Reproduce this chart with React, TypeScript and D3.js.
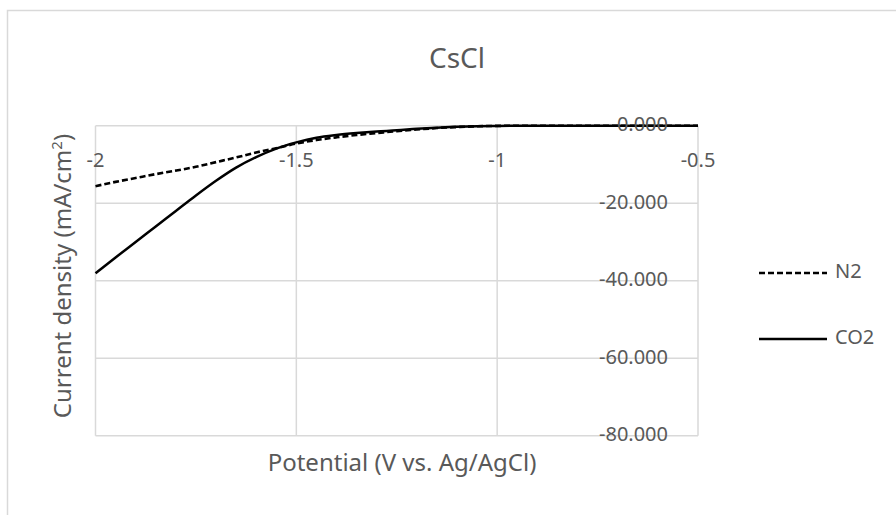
import React from "react";
import * as d3 from "d3";

const potentials = [-2.0, -1.95, -1.9, -1.85, -1.8, -1.75, -1.7, -1.65, -1.6, -1.55, -1.5, -1.45, -1.4, -1.35, -1.3, -1.25, -1.2, -1.15, -1.1, -1.05, -1.0, -0.95, -0.9, -0.85, -0.8, -0.75, -0.7, -0.65, -0.6, -0.55, -0.5];
const n2Values = [-15.6, -14.5, -13.5, -12.5, -11.6, -10.6, -9.4, -8.2, -6.9, -5.8, -4.6, -3.7, -3.0, -2.4, -1.9, -1.4, -1.0, -0.6, -0.35, -0.15, -0.05, 0, 0, 0, 0, 0, 0, 0, 0, 0, 0];
const co2Values = [-38.1, -34.0, -30.0, -26.0, -22.0, -18.0, -14.2, -10.8, -8.1, -5.9, -4.3, -3.1, -2.4, -1.9, -1.5, -1.2, -0.8, -0.5, -0.3, -0.15, -0.05, 0, 0, 0, 0, 0, 0, 0, 0, 0, 0];
const xTicks = [-2, -1.5, -1, -0.5];
const yTicks = [0, -20, -40, -60, -80];
const seriesNames = ["N2", "CO2"];

const FONT = "'Noto Sans', 'DejaVu Sans', sans-serif";
const TEXT = "#595959";
const GRID = "#d9d9d9";

export default function App() {
  const W = 896, H = 515;
  const x = d3.scaleLinear().domain([-2, -0.5]).range([95.5, 698]);
  const y = d3.scaleLinear().domain([-80, 0]).range([435.7, 125.7]);
  const line = d3
    .line<number>()
    .x((_, i) => x(potentials[i]))
    .y((d) => y(d))
    .curve(d3.curveMonotoneX);

  return (
    <svg width={W} height={H} style={{ position: "absolute", left: 0, top: 0, background: "#fff" }} fontFamily={FONT}>
      <rect x={0} y={0} width={W} height={H} fill="#fff" />
      {/* outer chart border */}
      <rect x={7.5} y={10.5} width={W + 20} height={H + 20} fill="none" stroke={GRID} strokeWidth={1.5} />
      {/* title */}
      <text x={457} y={68} textAnchor="middle" fontSize={28} fill={TEXT}>CsCl</text>
      {/* gridlines */}
      {yTicks.map((t) => (
        <line key={"h" + t} x1={x(-2)} x2={x(-0.5)} y1={y(t)} y2={y(t)} stroke={GRID} strokeWidth={1.5} />
      ))}
      {xTicks.map((t) => (
        <line key={"v" + t} x1={x(t)} x2={x(t)} y1={y(0)} y2={y(-80)} stroke={GRID} strokeWidth={1.5} />
      ))}
      {/* series */}
      <path d={line(n2Values) || ""} fill="none" stroke="#000" strokeWidth={2.6} strokeDasharray="6,3" />
      <path d={line(co2Values) || ""} fill="none" stroke="#000" strokeWidth={2.5} />
      {/* x tick labels */}
      {xTicks.map((t) => (
        <text key={"xl" + t} x={x(t)} y={162} textAnchor="middle" dominantBaseline="middle" fontSize={20} fill={TEXT}>
          {String(t)}
        </text>
      ))}
      {/* y tick labels */}
      {yTicks.map((t) => (
        <text key={"yl" + t} x={668} y={y(t)} textAnchor="end" dominantBaseline="middle" fontSize={20} fill={TEXT}>
          {d3.format(".3f")(t).replace("−", "-")}
        </text>
      ))}
      {/* axis titles */}
      <text x={402} y={471} textAnchor="middle" fontSize={24} fill={TEXT}>Potential (V vs. Ag/AgCl)</text>
      <text transform="translate(71,276) rotate(-90)" textAnchor="middle" fontSize={24} fill={TEXT}>
        Current density (mA/cm<tspan dy={-9} fontSize={15}>2</tspan><tspan dy={9}>)</tspan>
      </text>
      {/* legend */}
      <line x1={759} x2={827} y1={273} y2={273} stroke="#000" strokeWidth={2.6} strokeDasharray="6,3" />
      <text x={835} y={273} dominantBaseline="middle" fontSize={20} fill={TEXT}>{seriesNames[0]}</text>
      <line x1={759} x2={827} y1={339} y2={339} stroke="#000" strokeWidth={2.5} />
      <text x={835} y={339} dominantBaseline="middle" fontSize={20} fill={TEXT}>{seriesNames[1]}</text>
    </svg>
  );
}
